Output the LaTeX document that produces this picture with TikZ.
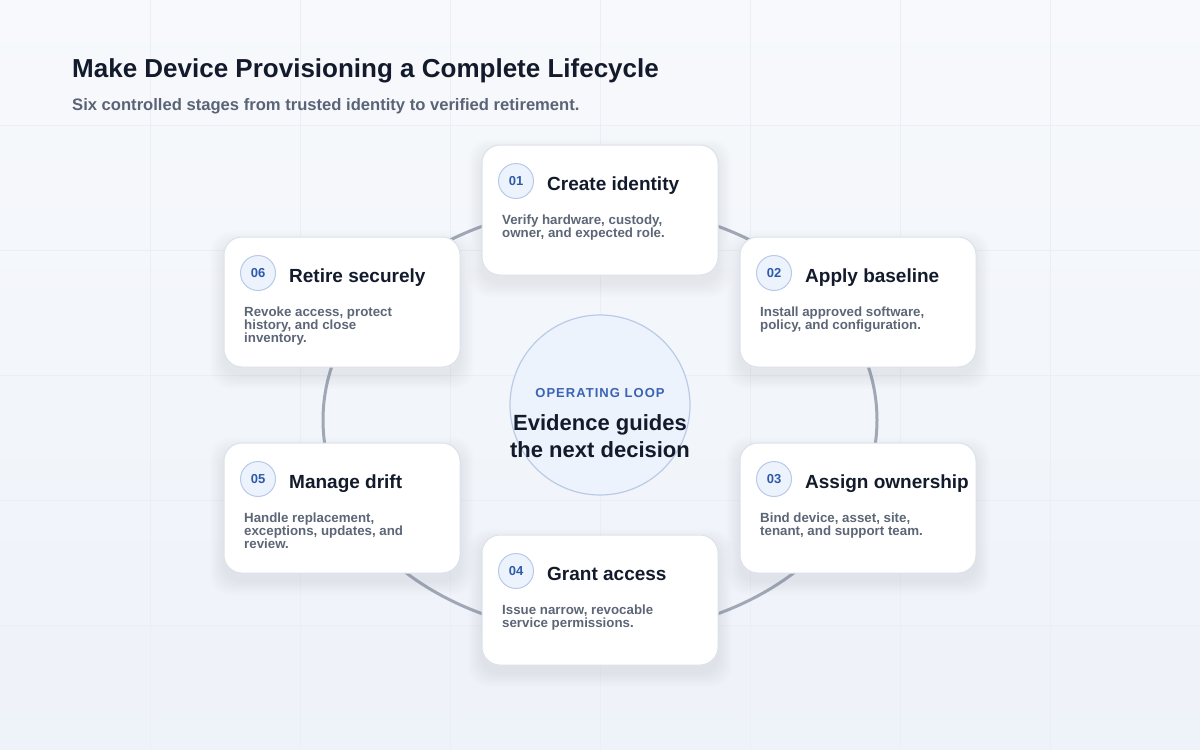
\documentclass[tikz,border=0pt]{standalone}
\usepackage{fontspec}
\setmainfont{Liberation Sans}
\usetikzlibrary{calc}
\definecolor{bgtop}{HTML}{F7F9FC}
\definecolor{bgbot}{HTML}{EEF2F9}
\definecolor{gridc}{HTML}{EBEEF4}
\definecolor{ringc}{HTML}{A1A8B5}
\definecolor{cardline}{HTML}{DCE2EB}
\definecolor{numfill}{HTML}{EDF3FD}
\definecolor{numline}{HTML}{B9CAE8}
\definecolor{numtext}{HTML}{2D5AA8}
\definecolor{ink}{HTML}{121A2B}
\definecolor{subink}{HTML}{5A6476}
\definecolor{descink}{HTML}{5D6677}
\definecolor{hubfill}{HTML}{EDF3FC}
\definecolor{hubline}{HTML}{BACBE8}
\definecolor{hubtag}{HTML}{3A63B3}
\definecolor{shadowc}{HTML}{5A6A8C}
\tikzset{
  card/.style={rectangle, rounded corners=18pt, minimum width=236pt, minimum height=130pt, fill=white, draw=cardline, line width=1pt},
  numcirc/.style={circle, minimum size=35pt, inner sep=0pt, fill=numfill, draw=numline, line width=1pt, text=numtext, font=\fontsize{13}{13}\selectfont\bfseries},
  cardtitle/.style={inner sep=0pt, text=ink, font=\fontsize{19}{22}\selectfont\bfseries},
  carddesc/.style={inner sep=0pt, text=descink, align=left, font=\fontsize{13.3}{13.3}\selectfont\bfseries},
  ringline/.style={draw=ringc, line width=3pt},
  hubcircle/.style={circle, minimum size=180pt, inner sep=0pt, fill=hubfill, draw=hubline, line width=1.2pt},
}
\newcommand\stagecard[6]{%
  \begin{scope}[shift={(#2,#3)}]
    \foreach \s in {1,...,8}{
      \fill[shadowc, opacity=0.010, rounded corners=20pt] (-118-1.7*\s,-65-1.7*\s+8) rectangle (118+1.7*\s,65+1.7*\s+8);
    }
    \node[card] (#1) at (0,0) {};
    \node[numcirc] (#1n) at (-84,-29) {#4};
    \node[cardtitle, anchor=base west] (#1t) at (-53,-19.5) {#5};
    \node[carddesc, anchor=north west] (#1d) at (-98,4.5) {#6};
  \end{scope}}
\begin{document}
\begin{tikzpicture}[x=1pt,y=-1pt]
\useasboundingbox (0,0) rectangle (1200,750);
\shade[top color=bgtop, bottom color=bgbot] (0,0) rectangle (1200,750);
\foreach \x in {150,300,...,1050} \draw[gridc, line width=0.8pt] (\x,0) -- (\x,750);
\foreach \y in {125,250,...,625} \draw[gridc, line width=0.8pt] (0,\y) -- (1200,\y);
\node[anchor=base west, inner sep=0pt, text=ink, font=\fontsize{26}{30}\selectfont\bfseries] (title) at (72,77) {Make Device Provisioning a Complete Lifecycle};
\node[anchor=base west, inner sep=0pt, text=subink, font=\fontsize{16.6}{20}\selectfont\bfseries] (subtitle) at (72,110) {Six controlled stages from trusted identity to verified retirement.};
\draw[ringline] (600,420) ellipse [x radius=277pt, y radius=214pt];
\node[hubcircle] (hub) at (600,405) {};
\node[anchor=base, inner sep=0pt, text=hubtag, font=\fontsize{13}{13}\selectfont\bfseries] (hubtag) at (600,397.5) {\addfontfeature{LetterSpace=8}OPERATING LOOP};
\node[anchor=north, inner sep=0pt, text=ink, align=center, font=\fontsize{22}{27}\selectfont\bfseries] (hubtext) at (600,414) {Evidence guides\\the next decision};
\stagecard{c1}{600}{210}{01}{Create identity}{Verify hardware, custody,\\owner, and expected role.}
\stagecard{c2}{858}{302}{02}{Apply baseline}{Install approved software,\\policy, and configuration.}
\stagecard{c3}{858}{508}{03}{Assign ownership}{Bind device, asset, site,\\tenant, and support team.}
\stagecard{c4}{600}{600}{04}{Grant access}{Issue narrow, revocable\\service permissions.}
\stagecard{c5}{342}{508}{05}{Manage drift}{Handle replacement,\\exceptions, updates, and\\review.}
\stagecard{c6}{342}{302}{06}{Retire securely}{Revoke access, protect\\history, and close\\inventory.}
\end{tikzpicture}
\end{document}
